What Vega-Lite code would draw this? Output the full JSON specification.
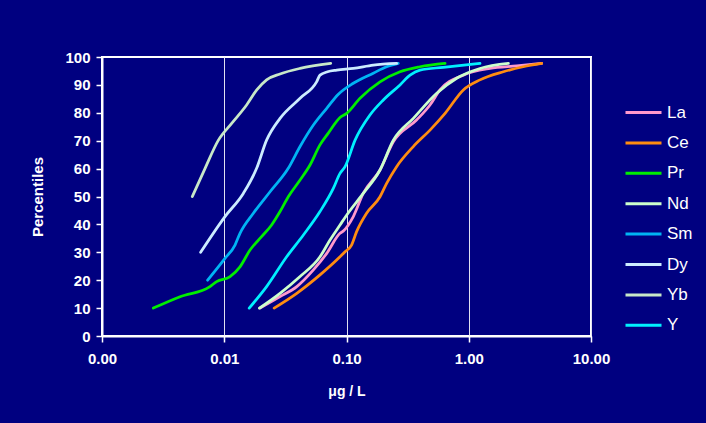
{
  "$schema": "https://vega.github.io/schema/vega-lite/v6.json",
  "width": 489,
  "height": 279,
  "autosize": {"type": "none"},
  "padding": {"left": 102, "top": 57, "right": 115, "bottom": 87},
  "background": "#000080",
  "config": {
    "view": {"stroke": "#ffffff", "strokeWidth": 2},
    "font": "Liberation Sans"
  },
  "datasets": {
    "curves": [
      {"el":"La","x":0.0196,"p":10},{"el":"La","x":0.0286,"p":14.1},{"el":"La","x":0.0392,"p":17.7},{"el":"La","x":0.0536,"p":23.7},{"el":"La","x":0.0689,"p":29.6},{"el":"La","x":0.0885,"p":36.8},{"el":"La","x":0.094,"p":37.6},{"el":"La","x":0.1137,"p":42.8},{"el":"La","x":0.137,"p":51.1},{"el":"La","x":0.188,"p":59.5},{"el":"La","x":0.2415,"p":69.6},{"el":"La","x":0.374,"p":77.4},{"el":"La","x":0.482,"p":82.8},{"el":"La","x":0.582,"p":88.2},{"el":"La","x":0.903,"p":93.5},{"el":"La","x":1.49,"p":95.9},{"el":"La","x":2.47,"p":96.8},{"el":"La","x":3.95,"p":97.7},
      {"el":"Ce","x":0.0256,"p":10},{"el":"Ce","x":0.0392,"p":15.3},{"el":"Ce","x":0.0607,"p":21.9},{"el":"Ce","x":0.0885,"p":28.4},{"el":"Ce","x":0.0973,"p":30.2},{"el":"Ce","x":0.110,"p":32.6},{"el":"Ce","x":0.121,"p":37.4},{"el":"Ce","x":0.146,"p":44},{"el":"Ce","x":0.188,"p":49.9},{"el":"Ce","x":0.213,"p":54.7},{"el":"Ce","x":0.257,"p":60.7},{"el":"Ce","x":0.352,"p":67.9},{"el":"Ce","x":0.482,"p":73.8},{"el":"Ce","x":0.640,"p":79.8},{"el":"Ce","x":0.903,"p":88.2},{"el":"Ce","x":1.236,"p":91.8},{"el":"Ce","x":1.92,"p":94.7},{"el":"Ce","x":2.79,"p":96.5},{"el":"Ce","x":3.95,"p":97.7},
      {"el":"Pr","x":0.00263,"p":10},{"el":"Pr","x":0.00435,"p":14.1},{"el":"Pr","x":0.00764,"p":17.7},{"el":"Pr","x":0.00867,"p":19.5},{"el":"Pr","x":0.01115,"p":21.3},{"el":"Pr","x":0.01345,"p":24.8},{"el":"Pr","x":0.01625,"p":30.8},{"el":"Pr","x":0.0202,"p":35.6},{"el":"Pr","x":0.0244,"p":39.8},{"el":"Pr","x":0.0286,"p":44.6},{"el":"Pr","x":0.0334,"p":49.9},{"el":"Pr","x":0.0417,"p":55.9},{"el":"Pr","x":0.0503,"p":61.3},{"el":"Pr","x":0.0607,"p":68.5},{"el":"Pr","x":0.0710,"p":72.7},{"el":"Pr","x":0.0885,"p":78.3},{"el":"Pr","x":0.1004,"p":79.8},{"el":"Pr","x":0.129,"p":85.2},{"el":"Pr","x":0.188,"p":91.1},{"el":"Pr","x":0.274,"p":94.7},{"el":"Pr","x":0.399,"p":96.5},{"el":"Pr","x":0.640,"p":97.7},
      {"el":"Nd","x":0.0194,"p":10},{"el":"Nd","x":0.0286,"p":15.3},{"el":"Nd","x":0.0417,"p":21.3},{"el":"Nd","x":0.0607,"p":28.4},{"el":"Nd","x":0.0733,"p":34.4},{"el":"Nd","x":0.0885,"p":39.8},{"el":"Nd","x":0.1005,"p":43.4},{"el":"Nd","x":0.137,"p":51.1},{"el":"Nd","x":0.188,"p":59.5},{"el":"Nd","x":0.2415,"p":70.2},{"el":"Nd","x":0.352,"p":78},{"el":"Nd","x":0.547,"p":87},{"el":"Nd","x":0.797,"p":92.4},{"el":"Nd","x":1.236,"p":95.9},{"el":"Nd","x":2.11,"p":97.7},
      {"el":"Sm","x":0.00731,"p":20},{"el":"Sm","x":0.01014,"p":27.8},{"el":"Sm","x":0.01225,"p":32.6},{"el":"Sm","x":0.01345,"p":36.8},{"el":"Sm","x":0.0173,"p":44},{"el":"Sm","x":0.0237,"p":51.7},{"el":"Sm","x":0.0334,"p":60.1},{"el":"Sm","x":0.0417,"p":67.9},{"el":"Sm","x":0.0536,"p":75.6},{"el":"Sm","x":0.0689,"p":81.6},{"el":"Sm","x":0.085,"p":86.5},{"el":"Sm","x":0.1137,"p":90.6},{"el":"Sm","x":0.1656,"p":94.2},{"el":"Sm","x":0.213,"p":96.5},{"el":"Sm","x":0.265,"p":97.7},
      {"el":"Dy","x":0.00641,"p":30},{"el":"Dy","x":0.01014,"p":42.8},{"el":"Dy","x":0.01432,"p":51.1},{"el":"Dy","x":0.0184,"p":60.1},{"el":"Dy","x":0.0222,"p":70.2},{"el":"Dy","x":0.0286,"p":78},{"el":"Dy","x":0.0417,"p":85.2},{"el":"Dy","x":0.0571,"p":91.2},{"el":"Dy","x":0.0607,"p":93.5},{"el":"Dy","x":0.07,"p":94.7},{"el":"Dy","x":0.0832,"p":95.3},{"el":"Dy","x":0.1137,"p":95.9},{"el":"Dy","x":0.1656,"p":97.1},{"el":"Dy","x":0.257,"p":97.7},
      {"el":"Yb","x":0.00548,"p":50},{"el":"Yb","x":0.00697,"p":60.1},{"el":"Yb","x":0.00896,"p":70.2},{"el":"Yb","x":0.0115,"p":76.2},{"el":"Yb","x":0.01524,"p":82.8},{"el":"Yb","x":0.01845,"p":88.2},{"el":"Yb","x":0.0222,"p":91.8},{"el":"Yb","x":0.0286,"p":93.9},{"el":"Yb","x":0.0417,"p":95.9},{"el":"Yb","x":0.0743,"p":97.7},
      {"el":"Y","x":0.016,"p":10},{"el":"Y","x":0.0222,"p":17.7},{"el":"Y","x":0.0324,"p":28.4},{"el":"Y","x":0.0444,"p":36.2},{"el":"Y","x":0.0607,"p":44.6},{"el":"Y","x":0.078,"p":52.9},{"el":"Y","x":0.0885,"p":58.3},{"el":"Y","x":0.0973,"p":60.7},{"el":"Y","x":0.1175,"p":70.2},{"el":"Y","x":0.1556,"p":79.2},{"el":"Y","x":0.2,"p":84.6},{"el":"Y","x":0.274,"p":90},{"el":"Y","x":0.331,"p":93.5},{"el":"Y","x":0.399,"p":95.3},{"el":"Y","x":0.619,"p":96.3},{"el":"Y","x":1.236,"p":97.7}
    ]
  },
  "data": {"name": "curves"},
  "mark": {"type": "line", "strokeWidth": 2.75, "strokeCap": "round", "strokeJoin": "round", "interpolate": "monotone"},
  "encoding": {
    "x": {
      "field": "x", "type": "quantitative",
      "scale": {"type": "log", "domain": [0.001, 10], "nice": false},
      "axis": {
        "title": "μg / L", "values": [0.001, 0.01, 0.1, 1, 10], "format": ".2f",
        "labelFont": "Liberation Sans", "labelFontWeight": "bold", "labelFontSize": 15, "labelColor": "#ffffff", "labelPadding": 9,
        "titleFont": "Liberation Sans", "titleFontWeight": "bold", "titleFontSize": 14, "titleColor": "#ffffff", "titlePadding": 18,
        "domainColor": "#ffffff", "domainWidth": 2, "tickColor": "#ffffff", "tickWidth": 1.5, "tickSize": 6,
        "grid": true, "gridColor": "#e0e0f0", "gridWidth": 1, "labelFlush": false
      }
    },
    "y": {
      "field": "p", "type": "quantitative",
      "scale": {"domain": [0, 100], "nice": false},
      "axis": {
        "title": "Percentiles", "values": [0,10,20,30,40,50,60,70,80,90,100],
        "labelFont": "Liberation Sans", "labelFontWeight": "bold", "labelFontSize": 15, "labelColor": "#ffffff", "labelPadding": 6,
        "titleFont": "Liberation Sans", "titleFontWeight": "bold", "titleFontSize": 15, "titleColor": "#ffffff", "titlePadding": 19,
        "domainColor": "#ffffff", "domainWidth": 2, "tickColor": "#ffffff", "tickWidth": 1.5, "tickSize": 6,
        "grid": false
      }
    },
    "color": {
      "field": "el", "type": "nominal",
      "scale": {
        "domain": ["La","Ce","Pr","Nd","Sm","Dy","Yb","Y"],
        "range": ["#FF99CC","#FF8C10","#00EE00","#CCFFCC","#00B4F4","#CCECFF","#C8E8C8","#00F0FF"]
      },
      "legend": {
        "title": null, "orient": "none", "legendX": 522, "legendY": 36,
        "symbolType": "stroke", "symbolSize": 1296, "symbolStrokeWidth": 3,
        "labelFont": "Liberation Sans", "labelFontSize": 17, "labelColor": "#ffffff", "labelOffset": 4,
        "rowPadding": 2.4, "padding": 0
      }
    },
    "order": {"field": "p", "type": "quantitative"}
  }
}
